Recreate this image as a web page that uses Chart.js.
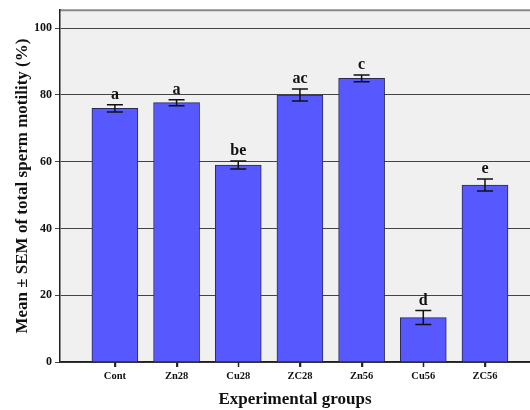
<!DOCTYPE html>
<html><head><meta charset="utf-8">
<script src="https://cdn.jsdelivr.net/npm/chart.js@4"></script>
<style>html,body{margin:0;padding:0;background:#fff}#w{width:530px;height:410px}</style>
</head><body><div id="w"><canvas id="c"></canvas></div>
<script>
const groups = ['Cont','Zn28','Cu28','ZC28','Zn56','Cu56','ZC56'];
const means = [76.0, 77.7, 59.0, 80.0, 85.0, 13.3, 53.0];
const sems = [1.1, 0.9, 1.2, 1.8, 1.0, 2.1, 1.8];
const letters = ['a','a','be','ac','c','d','e'];
const yTicks = [0,20,40,60,80,100];

const serif = '"Liberation Serif","Times New Roman",serif';

const plotBg = {
  id:'plotBg',
  beforeDraw(chart){
    const {ctx, chartArea:a} = chart;
    ctx.save();
    ctx.fillStyle = '#f0f0f0';
    ctx.fillRect(a.left, a.top, a.right-a.left, a.bottom-a.top);
    ctx.strokeStyle = '#888';
    ctx.lineWidth = 2;
    ctx.beginPath(); ctx.moveTo(a.left, a.top); ctx.lineTo(a.right, a.top); ctx.stroke();
    ctx.restore();
  }
};
const errBars = {
  id:'errBars',
  afterDraw(chart){
    const {ctx, scales:{x,y}, chartArea:a} = chart;
    ctx.save();
    ctx.strokeStyle = '#222';
    ctx.lineWidth = 1.5;
    ctx.beginPath();
    groups.forEach((g,i)=>{
      const px = Math.round(x.getPixelForValue(i+1)) + 0.5;
      ctx.moveTo(px, a.bottom); ctx.lineTo(px, a.bottom+5);
    });
    ctx.stroke();
    ctx.strokeStyle = '#111';
    ctx.fillStyle = '#111';
    ctx.font = 'bold 16px ' + serif;
    ctx.textAlign = 'center';
    ctx.textBaseline = 'alphabetic';
    means.forEach((m,i)=>{
      const px = x.getPixelForValue(i+1);
      const hi = y.getPixelForValue(m+sems[i]);
      const lo = y.getPixelForValue(m-sems[i]);
      ctx.beginPath();
      ctx.moveTo(px, hi); ctx.lineTo(px, lo);
      ctx.moveTo(px-8, hi); ctx.lineTo(px+8, hi);
      ctx.moveTo(px-8, lo); ctx.lineTo(px+8, lo);
      ctx.stroke();
      ctx.fillText(letters[i], px, hi-6);
    });
    ctx.restore();
  }
};

new Chart(document.getElementById('c'), {
  type:'bar',
  data:{
    datasets:[{
      data: means.map((m,i)=>({x:i+1, y:m})),
      backgroundColor:'#5858ff',
      borderColor:'#2a2a55',
      borderWidth:1,
      barThickness:46
    }]
  },
  plugins:[plotBg, errBars],
  options:{
    responsive:true, maintainAspectRatio:false, animation:false,
    layout:{padding:{top:10,right:0,left:0,bottom:0}},
    plugins:{legend:{display:false}, tooltip:{enabled:false}},
    scales:{
      x:{
        type:'linear', min:0.11, max:7.73, offset:false,
        afterBuildTicks(s){ s.ticks = groups.map((g,i)=>({value:i+1})); },
        afterFit(s){ s.height = 48; },
        ticks:{ callback:(v)=>groups[v-1] ?? '', color:'#111', font:{family:serif, size:10.5, weight:'bold'}, padding:3, maxRotation:0, autoSkip:false },
        grid:{ drawOnChartArea:false, offset:false, color:'#333', tickLength:5 },
        border:{ color:'#222', width:1.5 },
        title:{ display:true, text:'Experimental groups', color:'#111', font:{family:serif, size:17, weight:'bold'}, padding:{top:2,bottom:0} }
      },
      y:{
        min:0, max:105.4,
        afterBuildTicks(s){ s.ticks = yTicks.map(v=>({value:v})); },
        afterFit(s){ s.width = 60; },
        ticks:{ color:'#111', font:{family:serif, size:12, weight:'bold'}, padding:3 },
        grid:{ color:'#444', lineWidth:1, tickLength:5, offset:false },
        border:{ color:'#222', width:1.5 },
        title:{ display:true, text:'Mean \u00b1 SEM of total sperm motility (%)', color:'#111', font:{family:serif, size:17, weight:'bold'}, padding:{top:12,bottom:0} }
      }
    }
  }
});
</script></body></html>
